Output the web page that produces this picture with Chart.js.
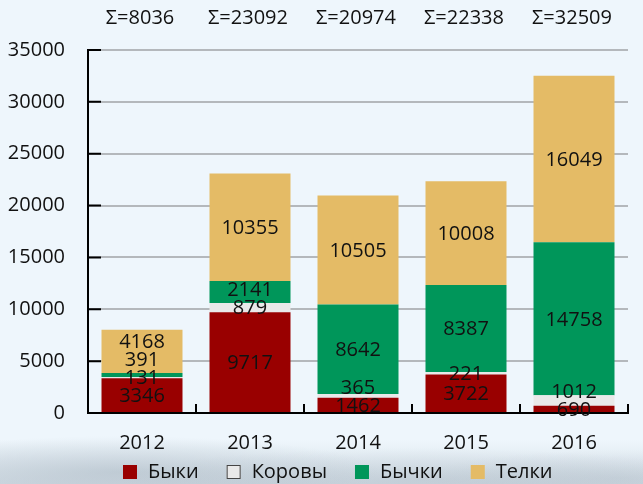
<!DOCTYPE html>
<html>
<head>
<meta charset="utf-8">
<script src="https://cdn.jsdelivr.net/npm/chart.js@4"></script>
<style>
  html, body { margin: 0; padding: 0; }
  body {
    width: 643px; height: 484px; overflow: hidden; position: relative;
    background: #eef6fc;
  }
  #hills {
    position: absolute; left: 0; top: 0; width: 643px; height: 484px;
    background:
      radial-gradient(ellipse 260px 36px at 120px 472px, rgba(150,165,178,0.4), rgba(150,165,178,0) 100%),
      radial-gradient(ellipse 300px 32px at 420px 480px, rgba(160,174,186,0.35), rgba(160,174,186,0) 100%),
      radial-gradient(ellipse 200px 28px at 620px 478px, rgba(165,178,190,0.3), rgba(165,178,190,0) 100%),
      linear-gradient(to bottom, rgba(200,212,222,0) 440px, rgba(190,202,212,0.55) 484px);
  }
  canvas { position: absolute; left: 0; top: 0; }
</style>
</head>
<body>
<div id="hills"></div>
<canvas id="dis" width="643" height="484"></canvas>
<script>
const years = ['2012', '2013', '2014', '2015', '2016'];
const byki = [3346, 9717, 1462, 3722, 690];
const korovy = [131, 879, 365, 221, 1012];
const bychki = [391, 2141, 8642, 8387, 14758];
const telki = [4168, 10355, 10505, 10008, 16049];
const yTicks = [0, 5000, 10000, 15000, 20000, 25000, 30000, 35000];

const FONT = 'Open Sans';
const FSIZE = 20;

// labels inside the bars, pushed up when they overlap
const barLabels = {
  id: 'barLabels',
  afterDatasetsDraw(chart) {
    const ctx = chart.ctx;
    ctx.save();
    ctx.font = FSIZE + 'px "' + FONT + '"';
    ctx.fillStyle = '#111';
    ctx.textAlign = 'center';
    ctx.textBaseline = 'middle';
    years.forEach((y, i) => {
      let prev = null;
      chart.data.datasets.forEach((ds, d) => {
        const el = chart.getDatasetMeta(d).data[i];
        let cy = (el.y + el.base) / 2;
        if (prev !== null && prev - cy < 18) cy = prev - 18;
        ctx.fillText(String(ds.data[i]), el.x, cy + 1);
        prev = cy;
      });
    });
    ctx.restore();
  }
};

// Σ texts above, tick marks on the axes, legend below
const extras = {
  id: 'extras',
  afterDraw(chart) {
    const ctx = chart.ctx;
    const a = chart.chartArea;
    const xs = chart.scales.x, ys = chart.scales.y;
    const w = (a.right - a.left) / years.length;
    ctx.save();
    ctx.font = FSIZE + 'px "' + FONT + '"';
    ctx.fillStyle = '#111';
    ctx.textAlign = 'center';
    ctx.textBaseline = 'middle';
    years.forEach((y, i) => {
      const sum = byki[i] + korovy[i] + bychki[i] + telki[i];
      ctx.fillText('Σ=' + sum, xs.getPixelForValue(i) - 2, 18);
    });
    ctx.strokeStyle = '#000';
    ctx.lineWidth = 2;
    ctx.beginPath();
    yTicks.forEach(v => {
      const py = ys.getPixelForValue(v);
      ctx.moveTo(a.left, py);
      ctx.lineTo(a.left + 13, py);
    });
    for (let i = 1; i <= years.length; i++) {
      const px = a.left + w * i;
      ctx.moveTo(px, a.bottom);
      ctx.lineTo(px, a.bottom - 9);
    }
    ctx.stroke();

    // legend
    let x = 123;
    const ly = 472;
    ctx.textAlign = 'left';
    chart.data.datasets.forEach(ds => {
      ctx.fillStyle = ds.backgroundColor;
      ctx.fillRect(x, ly - 7, 14, 14);
      if (ds.label === 'Коровы') {
        ctx.strokeStyle = '#444';
        ctx.lineWidth = 1;
        ctx.strokeRect(x + 0.5, ly - 6.5, 13, 13);
      }
      ctx.fillStyle = '#111';
      ctx.fillText(ds.label, x + 25, ly);
      x += 25 + ctx.measureText(ds.label).width + 28;
    });
    ctx.restore();
  }
};

new Chart(document.getElementById('dis'), {
  type: 'bar',
  data: {
    labels: years,
    datasets: [
      { label: 'Быки', data: byki, backgroundColor: '#990000' },
      { label: 'Коровы', data: korovy, backgroundColor: '#e9e9e9' },
      { label: 'Бычки', data: bychki, backgroundColor: '#00965a' },
      { label: 'Телки', data: telki, backgroundColor: '#e4bb66' }
    ]
  },
  options: {
    responsive: false,
    animation: false,
    barPercentage: 0.75,
    categoryPercentage: 1,
    layout: { padding: { top: 50, right: 15, left: 0, bottom: 0 } },
    scales: {
      x: {
        stacked: true,
        grid: { display: false },
        border: { color: '#000', width: 2 },
        afterFit(s) { s.height = 71; },
        ticks: { color: '#111', font: { family: FONT, size: FSIZE }, padding: 10 }
      },
      y: {
        stacked: true,
        min: 0,
        max: 35000,
        afterBuildTicks(s) { s.ticks = yTicks.map(v => ({ value: v })); },
        afterFit(s) { s.width = 88; },
        grid: { color: '#b4b8bc', lineWidth: 2, drawTicks: false },
        border: { color: '#000', width: 2 },
        ticks: { color: '#111', font: { family: FONT, size: FSIZE }, padding: 23, callback: v => String(v) }
      }
    },
    plugins: {
      tooltip: { enabled: false },
      legend: { display: false }
    }
  },
  plugins: [barLabels, extras]
});
</script>
</body>
</html>
